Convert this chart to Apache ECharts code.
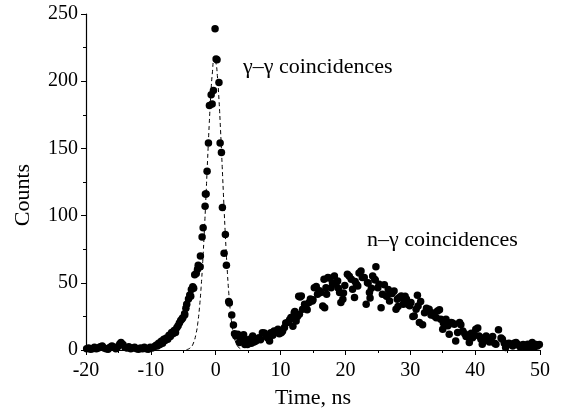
<!DOCTYPE html>
<html>
<head>
<meta charset="utf-8">
<script src="https://cdn.jsdelivr.net/npm/echarts@6/dist/echarts.min.js"></script>
<style>
  html, body { margin: 0; padding: 0; background: #fff; }
  #chart { width: 563px; height: 412px; }
</style>
</head>
<body>
<div id="chart"></div>
<script>
const timeBase = [-19.9, -19.6, -19.3, -19, -18.7, -18.4, -18.1, -17.8, -17.5, -17.2, -16.9, -16.6, -16.3, -16, -15.7, -15.4, -15.1, -14.8, -14.6, -14.3, -14, -13.7, -13.4, -13.1, -12.8, -12.5, -12.2, -11.9, -11.6, -11.3, -11, -10.7, -10.4, -10.1, -9.8, -9.5, -9.2];
const countsBase = [1, 1.5, 0.5, 1, 2, 1, 1.5, 2.5, 3, 1.5, 1, 0.5, 2, 3, 2, 1, 2.5, 4.5, 5.5, 4, 2, 1.5, 2.5, 1, 1.5, 2, 1, 0.5, 1.5, 1, 2, 1, 0.5, 2, 1.5, 2.5, 3.5];

const timePeak = [-9, -8.8, -8.6, -8.4, -8.2, -8, -7.8, -7.6, -7.4, -7.2, -7, -6.8, -6.6, -6.4, -6.2, -6, -5.8, -5.6, -5.4, -5.2, -5.08, -4.8, -4.78, -4.6, -4.47, -4.2, -4, -3.85, -3.75, -3.54, -3.4, -3.24, -3, -2.8, -2.7, -2.4, -2.36, -2.1, -1.94, -1.64, -1.59, -1.48, -1.33, -1.12, -0.97, -0.7, -0.55, -0.35, -0.1, 0.06, 0.2, 0.5, 0.68, 0.88, 1.03, 1.29, 1.49, 1.65, 2.0, 2.1, 2.47, 2.73, 2.9];
const countsPeak = [3, 5, 4, 6.5, 5, 8, 7, 9, 8, 11, 10, 13, 12, 14.5, 13, 16.5, 18, 20, 22, 23, 24, 27, 26, 31, 34, 38, 41, 40, 45, 47, 46, 56, 57, 60, 63, 62, 70, 84, 91, 107, 116, 116, 133, 154, 182, 190, 183, 193, 239, 216.5, 216, 199, 154, 147, 106, 72, 86, 63, 36, 35, 26, 18.6, 12];

const timeHump = [3.1, 3.4, 3.65, 3.9, 4.2, 4.3, 4.5, 4.7, 4.9, 5.2, 5.5, 5.7, 5.9, 6.2, 6.5, 6.7, 6.9, 7.2, 7.5, 7.8, 8.0, 8.3, 8.5, 8.8, 9.0, 9.3, 9.6, 9.8, 10.1, 10.3, 10.6, 10.8, 11.1, 11.4, 11.6, 11.9, 12.1, 12.2, 12.4, 12.6, 12.8, 12.9, 13.0, 13.2, 13.4, 13.7, 13.9, 14.1, 14.4, 14.6, 14.9, 15.0, 15.2, 15.5, 15.7, 16.0, 16.2, 16.5, 16.7, 16.8, 17.0, 17.1, 17.3, 17.5, 17.8, 18.0, 18.3, 18.5, 18.8, 18.9, 19.1, 19.3, 19.6, 19.7, 19.9, 20.3, 20.6, 20.9, 21.1, 21.4, 21.5, 21.7, 21.9, 22.1, 22.4, 22.6, 22.9, 23.2, 23.4, 23.5, 23.7, 23.8, 24.0, 24.2, 24.5, 24.6, 24.7, 25.0, 25.2, 25.5, 25.7, 26.0, 26.3, 26.4, 26.6, 26.8, 27.2, 27.5, 27.8, 28.0, 28.1, 28.3, 28.6, 28.9, 29.1, 29.2, 29.4, 29.6, 29.9, 30.1, 30.4, 30.6, 30.9, 31.1, 31.2, 31.4, 31.6, 31.9, 32.2, 32.5, 32.7, 32.9, 33.2, 33.5, 33.7, 34.0, 34.2, 34.5, 34.7, 35.0, 35.1, 35.3, 35.5, 35.8, 36.0, 36.3, 36.5, 36.8, 37.0, 37.3, 37.6, 37.8, 38.1, 38.4, 38.6, 38.8, 39.1, 39.4, 39.6, 39.9, 40.1, 40.4, 40.6, 40.9, 41.1, 41.2, 41.4, 41.7, 41.9, 42.2, 42.4, 42.7, 43.0, 43.2, 43.6, 44.0, 44.2, 44.5, 44.7, 45.0, 45.2, 45.5, 45.8, 46.0, 46.3, 46.6, 46.9, 47.1, 47.4, 47.7, 48.0, 48.1, 48.4, 48.6, 48.8, 49.1, 49.4, 49.6, 49.9];
const countsHump = [10.4, 11.7, 5.5, 8, 9.2, 11.4, 4, 6.7, 4, 8, 5, 10.4, 6, 6.7, 8.5, 9.2, 7.7, 12.9, 12.6, 10.4, 9, 6.7, 12.9, 11, 14.1, 14, 15.4, 12, 12.9, 14, 16.7, 20, 20.4, 22.5, 24.1, 17.6, 27.8, 28.7, 21.6, 25, 40, 26.6, 39.4, 40.2, 30.3, 34, 32.7, 30, 35.3, 38, 36.5, 37.4, 46.4, 47.3, 41.4, 44, 42.7, 32.7, 52.6, 31.5, 46.4, 41.4, 53.9, 53.6, 46.4, 50, 55.1, 49, 51.3, 46, 42.7, 35.3, 37.7, 42.4, 48, 56.3, 54.8, 52.6, 45.2, 39, 51, 49, 47.6, 57.3, 58.8, 54, 53.9, 34, 50.1, 49.8, 42.7, 38.7, 46, 55, 52.6, 52, 62, 46.4, 48.9, 31.5, 41.4, 48.6, 40.2, 40, 45, 36.5, 42, 43.9, 30.3, 37.7, 32.4, 39, 40.2, 34, 36.5, 39.9, 38, 34, 33, 35.3, 25, 25.3, 30.3, 40.7, 32.7, 20.4, 36, 18.8, 27.8, 31, 30, 30.3, 26, 27.5, 25.3, 24, 29, 30, 22.8, 15.4, 20, 21, 22.8, 18, 11.7, 20.4, 20, 19.1, 6.7, 13, 20.4, 18.8, 14.1, 12, 10, 10.4, 5.5, 12.5, 9.2, 11, 15.4, 16.4, 10.4, 8, 4.2, 9, 7, 10.4, 9, 6, 8, 10, 5, 4.2, 15, 9, 8, 5, 1.8, 4, 5, 4.2, 3, 5, 5.5, 4, 2.5, 3, 4, 2, 3, 4.2, 2, 3, 5.5, 2, 4, 3, 4];

// gaussian fit of the gamma-gamma peak (dashed)
const fitTime = [-4.5, -4, -3.5, -3, -2.75, -2.5, -2.25, -2, -1.75, -1.5, -1.25, -1, -0.75, -0.5, -0.25, 0, 0.25, 0.5, 0.75, 1, 1.25, 1.5, 1.75, 2, 2.25, 2.5, 2.75, 3, 3.5, 4];
const fitCounts = [0.3, 1.3, 4.4, 12.9, 20.6, 31.7, 46.7, 65.8, 88.8, 114.7, 141.9, 168, 190.6, 207, 215.2, 214.3, 204.3, 186.6, 163, 136.5, 109.4, 83.9, 61.7, 43.4, 29.2, 18.9, 11.6, 6.9, 2.1, 0.5];

const xTicks = [-20, -10, 0, 10, 20, 30, 40, 50];
const yTicks = [0, 50, 100, 150, 200, 250];

const font = '"Liberation Serif", "Times New Roman", serif';

const timeAll = timeBase.concat(timePeak, timeHump);
const countsAll = countsBase.concat(countsPeak, countsHump);
const points = timeAll.map((t, i) => [t, countsAll[i]]);
const fitLine = fitTime.map((t, i) => [t, fitCounts[i]]);

let myChart = echarts.init(document.getElementById("chart"));

let option = {
  animation: false,
  grid: {
    left: 86,
    right: 23,
    top: 14,
    bottom: 62,
    outerBoundsMode: 'none'
  },
  xAxis: {
    type: 'value',
    min: xTicks[0],
    max: xTicks[xTicks.length - 1],
    interval: 10,
    name: 'Time, ns',
    nameLocation: 'middle',
    nameGap: 37,
    nameTextStyle: { fontFamily: font, fontSize: 22, color: '#000' },
    axisLine: { onZero: false, lineStyle: { color: '#000', width: 1.2 } },
    axisTick: { inside: false, length: 5, lineStyle: { color: '#000' } },
    minorTick: { show: true, splitNumber: 2, length: 3, lineStyle: { color: '#000' } },
    splitLine: { show: false },
    axisLabel: { fontFamily: font, fontSize: 20, color: '#000', margin: 11 }
  },
  yAxis: {
    type: 'value',
    min: yTicks[0],
    max: yTicks[yTicks.length - 1],
    interval: 50,
    axisLine: { show: true, onZero: false, lineStyle: { color: '#000', width: 1.2 } },
    axisTick: { show: true, inside: false, length: 5, lineStyle: { color: '#000' } },
    minorTick: { show: true, splitNumber: 2, length: 3, lineStyle: { color: '#000' } },
    splitLine: { show: false },
    axisLabel: { fontFamily: font, fontSize: 20, color: '#000', margin: 8 }
  },
  graphic: [
    {
      type: 'text',
      x: 23,
      y: 195,
      rotation: Math.PI / 2,
      style: {
        text: 'Counts',
        font: '22px ' + font,
        fill: '#000',
        textAlign: 'center',
        textVerticalAlign: 'middle'
      }
    },
    {
      type: 'text',
      x: 243,
      y: 67,
      style: {
        text: 'γ–γ coincidences',
        font: '22px ' + font,
        fill: '#000',
        textAlign: 'left',
        textVerticalAlign: 'middle'
      }
    },
    {
      type: 'text',
      x: 367,
      y: 240,
      style: {
        text: 'n–γ coincidences',
        font: '22px ' + font,
        fill: '#000',
        textAlign: 'left',
        textVerticalAlign: 'middle'
      }
    }
  ],
  series: [
    {
      name: 'fit',
      type: 'line',
      data: fitLine,
      smooth: true,
      showSymbol: false,
      symbol: 'none',
      lineStyle: { color: '#000', width: 1, type: [4, 3] },
      z: 3
    },
    {
      name: 'counts',
      type: 'scatter',
      data: points,
      symbolSize: 7.5,
      itemStyle: { color: '#000', opacity: 1 },
      z: 2
    }
  ]
};

myChart.setOption(option);
window.addEventListener("resize", () => myChart.resize(), false);
</script>
</body>
</html>
